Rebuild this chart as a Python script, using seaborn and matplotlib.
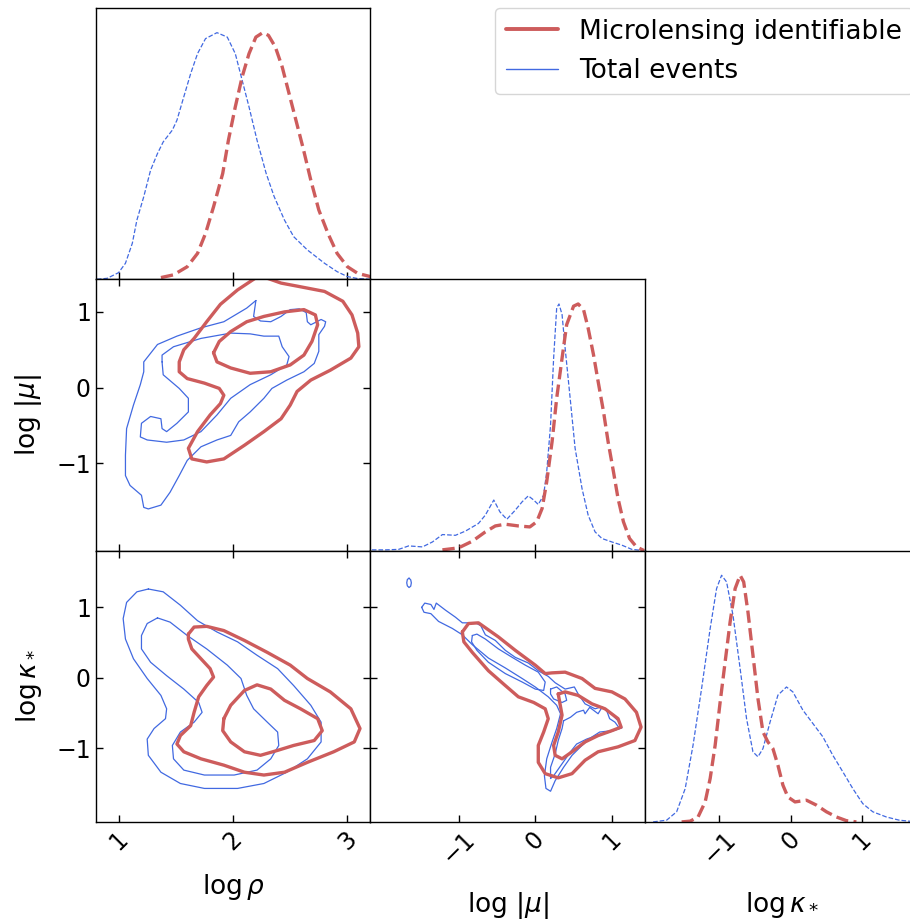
import numpy as np
import matplotlib
matplotlib.use("Agg")
import matplotlib.pyplot as plt
import seaborn as sns
from matplotlib.lines import Line2D

RED = "indianred"
BLUE = "royalblue"

# ---------------- 1D marginals (peak-normalised densities) ----------------
rho_total_x = [0.81, 0.90, 1.00, 1.06, 1.12, 1.16, 1.22, 1.28, 1.34, 1.39, 1.47, 1.51, 1.57, 1.63, 1.69, 1.76,
               1.86, 1.95, 2.02, 2.08, 2.14, 2.21, 2.29, 2.36, 2.45, 2.53, 2.65, 2.80, 2.91, 3.00, 3.09, 3.20]
rho_total_y = [0.0, 0.004, 0.027, 0.065, 0.146, 0.240, 0.335, 0.443, 0.510, 0.557, 0.605, 0.645, 0.740, 0.834,
               0.915, 0.976, 1.0, 0.982, 0.915, 0.807, 0.699, 0.564, 0.429, 0.335, 0.240, 0.173, 0.119, 0.065,
               0.031, 0.011, 0.003, 0.0]
rho_lens_x = [1.37, 1.48, 1.60, 1.69, 1.76, 1.83, 1.91, 1.96, 2.02, 2.08, 2.14, 2.20, 2.26, 2.31, 2.37, 2.43,
              2.49, 2.55, 2.61, 2.68, 2.75, 2.83, 2.91, 3.00, 3.09, 3.20]
rho_lens_y = [0.007, 0.018, 0.051, 0.105, 0.186, 0.294, 0.429, 0.564, 0.699, 0.821, 0.915, 0.982, 1.0, 0.989,
              0.942, 0.861, 0.753, 0.645, 0.537, 0.402, 0.281, 0.186, 0.105, 0.051, 0.024, 0.011]

mu_total_x = [-2.13, -1.95, -1.78, -1.65, -1.47, -1.34, -1.21, -1.04, -0.91, -0.74, -0.65, -0.54, -0.46, -0.37,
              -0.26, -0.17, -0.09, -0.02, 0.04, 0.11, 0.15, 0.20, 0.24, 0.28, 0.31, 0.35, 0.39, 0.46, 0.52, 0.61,
              0.69, 0.78, 0.87, 1.00, 1.13, 1.26, 1.42]
mu_total_y = [0.003, 0.003, 0.005, 0.019, 0.015, 0.035, 0.065, 0.062, 0.079, 0.110, 0.144, 0.205, 0.157, 0.127,
              0.164, 0.198, 0.222, 0.205, 0.187, 0.225, 0.320, 0.509, 0.780, 0.984, 1.0, 0.957, 0.821, 0.604,
              0.415, 0.252, 0.144, 0.076, 0.049, 0.035, 0.022, 0.005, 0.0]
mu_lens_x = [-1.21, -1.00, -0.82, -0.65, -0.52, -0.39, -0.22, -0.07, 0.02, 0.09, 0.15, 0.22, 0.28, 0.35, 0.41,
             0.50, 0.56, 0.63, 0.69, 0.76, 0.82, 0.89, 0.95, 1.02, 1.08, 1.15, 1.23, 1.32, 1.42]
mu_lens_y = [0.003, 0.011, 0.038, 0.076, 0.100, 0.107, 0.100, 0.096, 0.117, 0.171, 0.279, 0.442, 0.618, 0.780,
             0.916, 0.991, 1.0, 0.977, 0.902, 0.794, 0.686, 0.564, 0.442, 0.320, 0.211, 0.117, 0.049, 0.015, 0.0]

kappa_total_x = [-1.93, -1.74, -1.60, -1.48, -1.37, -1.25, -1.13, -1.04, -0.97, -0.90, -0.81, -0.71, -0.62,
                 -0.53, -0.46, -0.39, -0.29, -0.18, -0.06, 0.03, 0.17, 0.31, 0.45, 0.59, 0.73, 0.87, 1.01, 1.15,
                 1.34, 1.52, 1.66, 1.81]
kappa_total_y = [0.0, 0.007, 0.041, 0.135, 0.311, 0.541, 0.784, 0.946, 1.0, 0.973, 0.838, 0.622, 0.419, 0.284,
                 0.264, 0.297, 0.405, 0.514, 0.547, 0.527, 0.453, 0.399, 0.345, 0.270, 0.203, 0.135, 0.074, 0.041,
                 0.020, 0.007, 0.003, 0.0]
kappa_lens_x = [-1.53, -1.41, -1.30, -1.20, -1.13, -1.06, -0.99, -0.92, -0.85, -0.78, -0.71, -0.66, -0.60, -0.53,
                -0.46, -0.39, -0.32, -0.25, -0.18, -0.11, -0.04, 0.06, 0.22, 0.36, 0.50, 0.64, 0.78, 0.92]
kappa_lens_y = [0.0, 0.003, 0.020, 0.081, 0.176, 0.311, 0.486, 0.649, 0.811, 0.946, 1.0, 0.973, 0.851, 0.676,
                0.500, 0.365, 0.324, 0.297, 0.230, 0.149, 0.101, 0.081, 0.088, 0.068, 0.041, 0.020, 0.005, 0.0]

# ---------------- 2D credible contours (closed loops) ----------------
# log rho vs log|mu|
rho_mu_lens_outer_x = [2.21, 2.04, 1.89, 1.77, 1.66, 1.57, 1.53, 1.53, 1.60, 1.75, 1.88, 1.92, 1.89, 1.80, 1.69,
                       1.61, 1.64, 1.77, 1.92, 2.10, 2.27, 2.42, 2.50, 2.56, 2.68, 2.85, 3.03, 3.10, 3.09, 3.04,
                       2.96, 2.80, 2.56, 2.42, 2.27]
rho_mu_lens_outer_y = [1.46, 1.29, 1.10, 0.87, 0.65, 0.50, 0.34, 0.21, 0.12, 0.06, -0.01, -0.10, -0.21, -0.36,
                       -0.58, -0.80, -0.94, -0.98, -0.94, -0.76, -0.58, -0.41, -0.23, -0.05, 0.10, 0.23, 0.39,
                       0.54, 0.72, 0.96, 1.14, 1.27, 1.34, 1.38, 1.46]
rho_mu_lens_inner_x = [1.83, 1.88, 1.98, 2.12, 2.27, 2.45, 2.62, 2.72, 2.74, 2.69, 2.62, 2.50, 2.33, 2.15, 1.98,
                       1.86]
rho_mu_lens_inner_y = [0.46, 0.61, 0.74, 0.87, 0.94, 1.00, 1.03, 0.96, 0.83, 0.61, 0.43, 0.30, 0.21, 0.19, 0.26,
                       0.34]
rho_mu_total_outer_x = [2.20, 2.12, 1.92, 1.72, 1.51, 1.34, 1.22, 1.22, 1.19, 1.13, 1.07, 1.06, 1.06, 1.10, 1.20,
                        1.22, 1.26, 1.37, 1.45, 1.53, 1.60, 1.72, 1.86, 1.98, 2.05, 2.15, 2.27, 2.34, 2.47, 2.62,
                        2.71, 2.75, 2.75, 2.80, 2.81, 2.77, 2.68, 2.65, 2.64, 2.58, 2.50, 2.42, 2.33, 2.24, 2.18]
rho_mu_total_outer_y = [1.15, 1.05, 0.87, 0.79, 0.68, 0.57, 0.34, 0.21, 0.04, -0.23, -0.54, -0.89, -1.16, -1.29,
                        -1.42, -1.58, -1.60, -1.55, -1.38, -1.16, -0.96, -0.78, -0.69, -0.63, -0.45, -0.32, -0.14,
                        -0.01, 0.10, 0.21, 0.32, 0.48, 0.70, 0.81, 0.87, 0.90, 0.83, 0.87, 0.99, 1.04, 1.03, 0.94,
                        0.87, 0.88, 0.94]
rho_mu_total_inner_x = [1.38, 1.39, 1.53, 1.61, 1.61, 1.51, 1.42, 1.38, 1.37, 1.28, 1.20, 1.19, 1.25, 1.42, 1.57,
                        1.72, 1.86, 1.98, 2.15, 2.33, 2.47, 2.49, 2.43, 2.40, 2.27, 2.15, 1.98, 1.72, 1.48, 1.38]
rho_mu_total_inner_y = [0.34, 0.17, -0.01, -0.14, -0.32, -0.47, -0.58, -0.54, -0.41, -0.38, -0.47, -0.65, -0.69,
                        -0.72, -0.69, -0.58, -0.36, -0.14, 0.04, 0.17, 0.30, 0.41, 0.54, 0.68, 0.68, 0.71, 0.72,
                        0.65, 0.54, 0.43]

# log rho vs log kappa_*
rho_kappa_lens_outer_x = [1.61, 1.66, 1.77, 1.92, 2.10, 2.30, 2.50, 2.65, 2.85, 3.03, 3.11, 3.06, 2.88, 2.65,
                          2.45, 2.27, 2.10, 1.92, 1.72, 1.57, 1.51, 1.54, 1.63, 1.66, 1.70, 1.77, 1.83, 1.80,
                          1.72, 1.64, 1.61]
rho_kappa_lens_outer_y = [0.62, 0.72, 0.73, 0.67, 0.53, 0.36, 0.18, -0.01, -0.20, -0.44, -0.72, -0.91, -1.05,
                          -1.20, -1.34, -1.38, -1.34, -1.24, -1.15, -1.05, -0.94, -0.82, -0.68, -0.49, -0.27,
                          -0.11, 0.01, 0.13, 0.27, 0.41, 0.55]
rho_kappa_lens_inner_x = [1.92, 1.98, 2.10, 2.21, 2.33, 2.45, 2.59, 2.74, 2.78, 2.71, 2.53, 2.39, 2.24, 2.10,
                          1.98, 1.91]
rho_kappa_lens_inner_y = [-0.58, -0.39, -0.18, -0.10, -0.16, -0.32, -0.44, -0.58, -0.75, -0.89, -0.96, -1.03,
                          -1.10, -1.05, -0.91, -0.75]
rho_kappa_total_outer_x = [1.26, 1.39, 1.54, 1.69, 1.86, 2.04, 2.21, 2.39, 2.53, 2.68, 2.77, 2.77, 2.65, 2.47,
                           2.27, 2.04, 1.75, 1.54, 1.37, 1.26, 1.25, 1.31, 1.41, 1.42, 1.37, 1.25, 1.13, 1.06,
                           1.04, 1.07, 1.16]
rho_kappa_total_outer_y = [1.26, 1.22, 1.03, 0.81, 0.65, 0.51, 0.32, 0.13, -0.11, -0.39, -0.63, -0.91, -1.15,
                           -1.34, -1.50, -1.57, -1.57, -1.50, -1.34, -1.10, -0.87, -0.72, -0.58, -0.44, -0.25,
                           -0.01, 0.27, 0.55, 0.84, 1.07, 1.22]
rho_kappa_total_inner_x = [1.34, 1.45, 1.60, 1.77, 1.95, 2.07, 2.12, 2.18, 2.30, 2.39, 2.40, 2.33, 2.21, 2.01,
                           1.75, 1.57, 1.48, 1.47, 1.54, 1.66, 1.73, 1.70, 1.57, 1.42, 1.28, 1.20, 1.20, 1.25]
rho_kappa_total_inner_y = [0.85, 0.79, 0.60, 0.41, 0.18, -0.01, -0.25, -0.44, -0.63, -0.77, -0.96, -1.15, -1.31,
                           -1.38, -1.38, -1.31, -1.15, -0.96, -0.77, -0.63, -0.49, -0.35, -0.16, 0.03, 0.22,
                           0.41, 0.60, 0.77]

# log|mu| vs log kappa_*
mu_kappa_lens_outer_x = [-0.95, -0.87, -0.74, -0.48, -0.26, 0.00, 0.13, 0.22, 0.39, 0.61, 0.78, 1.00, 1.17, 1.32,
                         1.38, 1.30, 1.08, 0.82, 0.65, 0.48, 0.30, 0.13, 0.04, 0.04, 0.11, 0.17, 0.13, -0.02,
                         -0.22, -0.39, -0.61, -0.82, -0.93]
mu_kappa_lens_outer_y = [0.65, 0.77, 0.78, 0.58, 0.39, 0.18, 0.06, 0.07, 0.08, -0.01, -0.15, -0.20, -0.30, -0.49,
                         -0.70, -0.89, -0.98, -1.05, -1.17, -1.36, -1.42, -1.36, -1.20, -0.96, -0.77, -0.58,
                         -0.44, -0.35, -0.27, -0.11, 0.10, 0.36, 0.51]
mu_kappa_lens_inner_x = [0.30, 0.39, 0.56, 0.74, 0.91, 1.08, 1.12, 1.00, 0.82, 0.65, 0.48, 0.35, 0.26, 0.24, 0.30,
                         0.35, 0.32]
mu_kappa_lens_inner_y = [-0.23, -0.20, -0.25, -0.37, -0.44, -0.58, -0.70, -0.75, -0.82, -0.91, -1.05, -1.15,
                         -1.10, -0.96, -0.77, -0.53, -0.35]
mu_kappa_total_outer_x = [-1.48, -1.44, -1.36, -1.32, -1.29, -1.17, -1.04, -0.95, -0.78, -0.71, -0.65, -0.52,
                          -0.39, -0.26, -0.09, 0.04, 0.17, 0.26, 0.39, 0.51, 0.56, 0.65, 0.78, 0.87, 0.97, 1.08,
                          1.13, 1.00, 0.84, 0.74, 0.61, 0.48, 0.37, 0.26, 0.20, 0.14, 0.12, 0.15, 0.22, 0.28,
                          0.33, 0.28, 0.17, 0.00, -0.17, -0.39, -0.61, -0.82, -0.95, -1.08, -1.26, -1.36, -1.45]
mu_kappa_total_outer_y = [1.00, 1.06, 1.04, 0.97, 1.06, 0.96, 0.86, 0.78, 0.78, 0.74, 0.61, 0.53, 0.39, 0.29,
                          0.21, 0.10, 0.02, -0.07, -0.16, -0.13, -0.23, -0.37, -0.44, -0.41, -0.49, -0.61, -0.71,
                          -0.75, -0.77, -0.84, -0.96, -1.10, -1.27, -1.46, -1.61, -1.57, -1.39, -1.15, -0.91,
                          -0.72, -0.51, -0.39, -0.27, -0.13, -0.01, 0.14, 0.28, 0.47, 0.61, 0.70, 0.80, 0.91, 0.93]
mu_kappa_total_island_x = [-1.645, -1.623, -1.615, -1.623, -1.645, -1.667, -1.675, -1.667]
mu_kappa_total_island_y = [1.414, 1.390, 1.348, 1.300, 1.281, 1.305, 1.348, 1.395]
mu_kappa_total_band_x = [-0.82, -0.76, -0.65, -0.48, -0.30, -0.13, 0.04, 0.13, 0.11, 0.00, -0.17, -0.39, -0.61,
                         -0.76, -0.83]
mu_kappa_total_band_y = [0.60, 0.62, 0.55, 0.41, 0.29, 0.18, 0.08, -0.06, -0.18, -0.16, -0.06, 0.06, 0.22, 0.39,
                         0.51]
mu_kappa_total_knot_x = [0.20, 0.28, 0.39, 0.41, 0.35, 0.24, 0.20]
mu_kappa_total_knot_y = [-0.16, -0.13, -0.23, -0.32, -0.35, -0.30, -0.23]
mu_kappa_total_lobe_x = [0.37, 0.46, 0.54, 0.63, 0.65, 0.71, 0.82, 0.87, 0.93, 0.97, 1.04, 1.10, 0.97, 0.80, 0.67,
                         0.54, 0.46, 0.35, 0.24, 0.20, 0.20, 0.26, 0.30, 0.35]
mu_kappa_total_lobe_y = [-0.61, -0.56, -0.49, -0.46, -0.51, -0.42, -0.51, -0.42, -0.46, -0.58, -0.63, -0.72, -0.77,
                         -0.82, -0.87, -0.94, -1.05, -1.22, -1.39, -1.43, -1.27, -1.08, -0.89, -0.72]

param_labels = [r"$\log\rho$", r"$\log\,|\mu|$", r"$\log\kappa_*$"]
param_limits = [(0.80, 3.20), (-2.15, 1.43), (-2.045, 1.805)]
param_ticks = [[1, 2, 3], [-1, 0, 1], [-1, 0, 1]]
legend_labels = ["Microlensing identifiable", "Total events"]

# ---------------- styling ----------------
sns.set_style("ticks")
plt.rcParams["font.family"] = ["DejaVu Sans"]
plt.rcParams["axes.linewidth"] = 1.0
plt.rcParams["axes.edgecolor"] = "black"
for key in ("text.color", "axes.labelcolor", "xtick.color", "ytick.color"):
    plt.rcParams[key] = "black"

LW_LENS, LW_TOTAL = 2.4, 0.9
TICK_FS, LABEL_FS, LEGEND_FS = 17, 19, 19

W, H = 910, 923
fig = plt.figure(figsize=(W / 100, H / 100), dpi=100)
fig.patch.set_facecolor("white")

col_left = [95.7, 370.3, 644.9]
row_top = [8.0, 279.3, 550.6]
pw, ph = 274.6, 271.3
xlabel_y = [-0.185, -0.252, -0.252]
ylabel_x = -0.188


def closed(v):
    return np.append(np.asarray(v, float), v[0])


def draw_loop(ax, xs, ys, color, lw):
    sns.lineplot(x=closed(xs), y=closed(ys), ax=ax, color=color, lw=lw, sort=False,
                 estimator=None, solid_joinstyle="round", solid_capstyle="round")


diag_curves = [
    (rho_total_x, rho_total_y, rho_lens_x, rho_lens_y),
    (mu_total_x, mu_total_y, mu_lens_x, mu_lens_y),
    (kappa_total_x, kappa_total_y, kappa_lens_x, kappa_lens_y),
]

pair_loops = {
    (1, 0): [(rho_mu_total_outer_x, rho_mu_total_outer_y, BLUE),
             (rho_mu_total_inner_x, rho_mu_total_inner_y, BLUE),
             (rho_mu_lens_outer_x, rho_mu_lens_outer_y, RED),
             (rho_mu_lens_inner_x, rho_mu_lens_inner_y, RED)],
    (2, 0): [(rho_kappa_total_outer_x, rho_kappa_total_outer_y, BLUE),
             (rho_kappa_total_inner_x, rho_kappa_total_inner_y, BLUE),
             (rho_kappa_lens_outer_x, rho_kappa_lens_outer_y, RED),
             (rho_kappa_lens_inner_x, rho_kappa_lens_inner_y, RED)],
    (2, 1): [(mu_kappa_total_outer_x, mu_kappa_total_outer_y, BLUE),
             (mu_kappa_total_island_x, mu_kappa_total_island_y, BLUE),
             (mu_kappa_total_band_x, mu_kappa_total_band_y, BLUE),
             (mu_kappa_total_knot_x, mu_kappa_total_knot_y, BLUE),
             (mu_kappa_total_lobe_x, mu_kappa_total_lobe_y, BLUE),
             (mu_kappa_lens_outer_x, mu_kappa_lens_outer_y, RED),
             (mu_kappa_lens_inner_x, mu_kappa_lens_inner_y, RED)],
}

for i in range(3):
    for j in range(i + 1):
        ax = fig.add_axes([col_left[j] / W, 1 - (row_top[i] + ph) / H, pw / W, ph / H])
        ax.set_facecolor("white")
        for s in ax.spines.values():
            s.set_visible(True)
            s.set_color("black")
            s.set_linewidth(1.0)
        if i == j:
            tx, ty, lx, ly = diag_curves[i]
            sns.lineplot(x=tx, y=ty, ax=ax, color=BLUE, lw=LW_TOTAL, linestyle="--",
                         sort=False, estimator=None)
            sns.lineplot(x=lx, y=ly, ax=ax, color=RED, lw=LW_LENS, linestyle="--",
                         sort=False, estimator=None)
            ax.set_ylim(0, 1.1)
            ax.set_yticks([])
            ax.tick_params(axis="x", direction="in", bottom=True, top=False, length=5, width=1.0,
                           labelsize=TICK_FS)
        else:
            for xs, ys, c in pair_loops[(i, j)]:
                draw_loop(ax, xs, ys, c, LW_LENS if c == RED else LW_TOTAL)
            ax.set_ylim(*param_limits[i])
            ax.set_yticks(param_ticks[i])
            ax.tick_params(direction="in", top=True, right=True, bottom=True, left=True,
                           length=5, width=1.0, labelsize=TICK_FS)
        ax.set_xlim(*param_limits[j])
        ax.set_xticks(param_ticks[j])
        ax.set_xlabel("")
        ax.set_ylabel("")
        if i == 2:
            ax.tick_params(axis="x", labelrotation=45)
            ax.set_xlabel(param_labels[j], fontsize=LABEL_FS)
            ax.xaxis.set_label_coords(0.5, xlabel_y[j])
        else:
            ax.tick_params(axis="x", labelbottom=False)
        if j == 0 and i > 0:
            ax.set_ylabel(param_labels[i], fontsize=LABEL_FS)
            ax.yaxis.set_label_coords(ylabel_x, 0.5)
        elif i != j:
            ax.tick_params(axis="y", labelleft=False)

handles = [Line2D([], [], color=RED, lw=2.8), Line2D([], [], color=BLUE, lw=1.0)]
fig.legend(handles, legend_labels, loc="upper left", bbox_to_anchor=(495 / W, 1 - 8 / H),
           borderaxespad=0, fontsize=LEGEND_FS, frameon=True, fancybox=True, framealpha=0.8,
           edgecolor="0.8")

fig.savefig("out.png", dpi=100, facecolor="white")
